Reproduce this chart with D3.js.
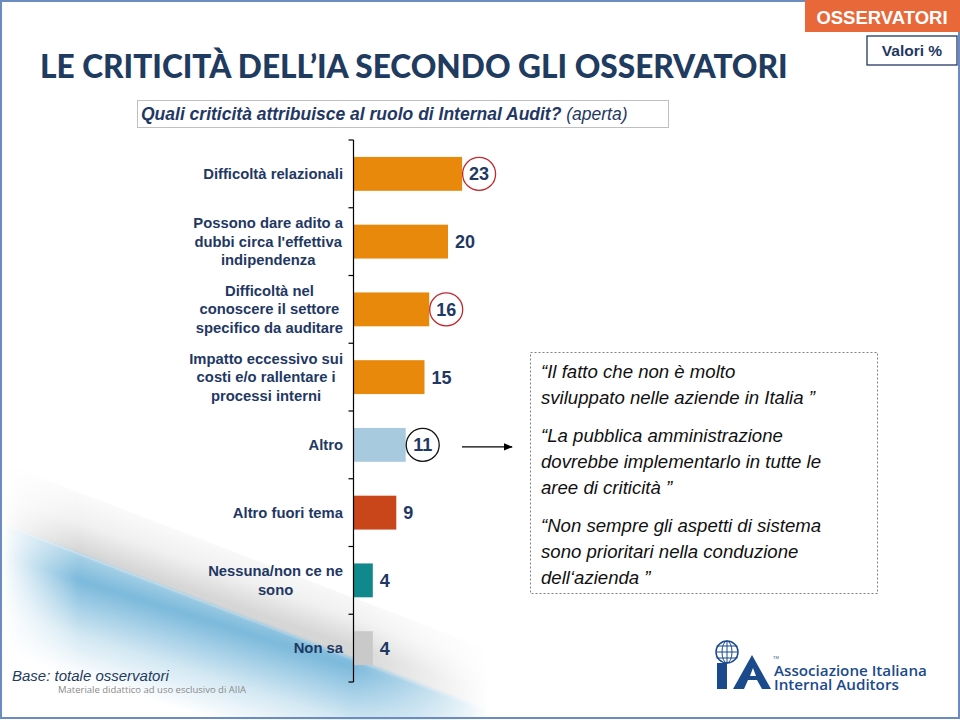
<!DOCTYPE html>
<html><head><meta charset="utf-8">
<script src="https://cdn.jsdelivr.net/npm/d3@7"></script>
<style>body{margin:0;background:#fff}svg{display:block}</style>
</head><body><svg id="c" width="960" height="720"></svg>
<script>
// ---------- DATA ----------
const categories = [
  "Difficoltà relazionali",
  "Possono dare adito a dubbi circa l'effettiva indipendenza",
  "Difficoltà nel conoscere il settore specifico da auditare",
  "Impatto eccessivo sui costi e/o rallentare i processi interni",
  "Altro",
  "Altro fuori tema",
  "Nessuna/non ce ne sono",
  "Non sa"
];
const categoryLines = [
  ["Difficoltà relazionali"],
  ["Possono dare adito a", "dubbi circa l'effettiva", "indipendenza"],
  ["Difficoltà nel", "conoscere il settore", "specifico da auditare"],
  ["Impatto eccessivo sui", "costi e/o rallentare i", "processi interni"],
  ["Altro"],
  ["Altro fuori tema"],
  ["Nessuna/non ce ne", "sono"],
  ["Non sa"]
];
const values = [23, 20, 16, 15, 11, 9, 4, 4];
const circledCategories = ["Difficoltà relazionali", "Difficoltà nel conoscere il settore specifico da auditare", "Altro"];
const quotes = [
  ["\u201CIl fatto che non è molto", "sviluppato nelle aziende in Italia \u201D"],
  ["\u201CLa pubblica amministrazione", "dovrebbe implementarlo in tutte le", "aree di criticità \u201D"],
  ["\u201CNon sempre gli aspetti di sistema", "sono prioritari nella conduzione", "dell\u2018azienda \u201D"]
];
const titleText = "LE CRITICITÀ DELL\u2019IA SECONDO GLI OSSERVATORI";
const questionBold = "Quali criticità attribuisce al ruolo di Internal Audit?";
const questionNote = " (aperta)";

// ---------- STYLE ----------
const barColors = ["#E8890C","#E8890C","#E8890C","#E8890C","#A8CADF","#C8461A","#10898C","#C9C9C9"];
const circleColors = {"Difficoltà relazionali":"#C0282D","Difficoltà nel conoscere il settore specifico da auditare":"#C0282D","Altro":"#111"};
const navy = "#1F3864";
const sans = "'Liberation Sans', Arial, sans-serif";

const svg = d3.select("#c");
const defs = svg.append("defs");

// ---------- background swoosh ----------
const bgGrad = defs.append("linearGradient").attr("id","blueG")
  .attr("gradientUnits","userSpaceOnUse").attr("x1",200).attr("y1",594).attr("x2",165).attr("y2",705);
bgGrad.append("stop").attr("offset",0).attr("stop-color","#a6d0e6");
bgGrad.append("stop").attr("offset",0.2).attr("stop-color","#7bb9db");
bgGrad.append("stop").attr("offset",0.65).attr("stop-color","#d3e8f3");
bgGrad.append("stop").attr("offset",1).attr("stop-color","#ffffff");
const grayGrad = defs.append("linearGradient").attr("id","grayG")
  .attr("gradientUnits","userSpaceOnUse").attr("x1",222).attr("y1",530).attr("x2",200).attr("y2",593);
grayGrad.append("stop").attr("offset",0).attr("stop-color","#ffffff");
grayGrad.append("stop").attr("offset",0.6).attr("stop-color","#f0f0f0");
grayGrad.append("stop").attr("offset",1).attr("stop-color","#d6d6d6");
const leftFade = defs.append("linearGradient").attr("id","leftFade")
  .attr("gradientUnits","userSpaceOnUse").attr("x1",0).attr("y1",0).attr("x2",490).attr("y2",0);
leftFade.append("stop").attr("offset",0).attr("stop-color","#000");
leftFade.append("stop").attr("offset",0.16).attr("stop-color","#fff");
leftFade.append("stop").attr("offset",0.72).attr("stop-color","#fff");
leftFade.append("stop").attr("offset",1).attr("stop-color","#000");
defs.append("mask").attr("id","fadeMask").attr("maskUnits","userSpaceOnUse")
  .attr("x",0).attr("y",440).attr("width",520).attr("height",280)
  .append("rect").attr("x",0).attr("y",440).attr("width",520).attr("height",280).attr("fill","url(#leftFade)");
defs.append("filter").attr("id","soft").append("feGaussianBlur").attr("stdDeviation",1.5);

const sw = svg.append("g").attr("mask","url(#fadeMask)");
sw.append("path").attr("d","M0,462 L490,650 L490,712 L0,523 Z").attr("fill","url(#grayG)");
sw.append("path").attr("d","M0,523 L490,711 L490,720 L0,720 Z").attr("fill","url(#blueG)").attr("filter","url(#soft)");

// slide border
svg.append("rect").attr("x",1).attr("y",1).attr("width",958).attr("height",717)
  .attr("fill","none").attr("stroke","#6C8CBF").attr("stroke-width",2);

// ---------- header ----------
svg.append("rect").attr("x",805).attr("y",0).attr("width",155).attr("height",32).attr("fill","#E8683A");
svg.append("text").attr("x",882).attr("y",24).attr("text-anchor","middle")
  .attr("font-family",sans).attr("font-weight","bold").attr("font-size",18.5).attr("fill","#fff").text("OSSERVATORI");
svg.append("rect").attr("x",867).attr("y",36).attr("width",90).attr("height",29)
  .attr("fill","#fff").attr("stroke",navy).attr("stroke-width",1.3);
svg.append("text").attr("x",912).attr("y",56).attr("text-anchor","middle")
  .attr("font-family",sans).attr("font-weight","bold").attr("font-size",15.5).attr("fill",navy).text("Valori %");

// title: size it so its natural width spans the reference width
const title = svg.append("text").attr("x",40).attr("y",78)
  .attr("font-family","Lato, 'Open Sans', sans-serif").attr("font-weight",900).attr("font-size",36)
  .attr("fill","#1F3B60").text(titleText);
const tw0 = title.node().getComputedTextLength();
const tfs = Math.min(38, 36 * 748 / tw0);
title.attr("font-size", tfs);

svg.append("rect").attr("x",137.5).attr("y",100.5).attr("width",531).attr("height",27)
  .attr("fill","#fff").attr("stroke","#BFBFBF");
const q = svg.append("text").attr("x",141).attr("y",120).attr("font-family",sans)
  .attr("font-size",17.5).attr("font-style","italic").attr("fill",navy);
q.append("tspan").attr("font-weight","bold").text(questionBold);
q.append("tspan").text(questionNote);

// ---------- chart ----------
const y = d3.scaleBand().domain(categories).range([140, 682]).paddingInner(0.5).paddingOuter(0.25);
const x = d3.scaleLinear().domain([0, 25]).range([354, 354 + 25 * 4.7]);

svg.append("g").selectAll("rect").data(categories).join("rect")
  .attr("x", x(0)).attr("y", d => y(d)).attr("height", y.bandwidth())
  .attr("width", (d,i) => x(values[i]) - x(0)).attr("fill", (d,i) => barColors[i]);

// axis
const axisX = 353.5;
const ax = svg.append("g").attr("stroke","#000").attr("stroke-width",1.2);
ax.append("line").attr("x1",axisX).attr("x2",axisX).attr("y1",y.range()[0]).attr("y2",y.range()[1]);
const bounds = d3.range(categories.length + 1).map(i => y.range()[0] + i * y.step());
ax.selectAll("line.t").data(bounds).join("line").attr("class","t")
  .attr("x1",axisX - 5).attr("x2",axisX).attr("y1",d=>d).attr("y2",d=>d);

// category labels: lines centered within a right-aligned block
const labG = svg.append("g").attr("font-family",sans).attr("font-weight","bold")
  .attr("font-size",14.8).attr("fill",navy);
categories.forEach((c, i) => {
  const lines = categoryLines[i];
  const cy = y(c) + y.bandwidth() / 2;
  const lh = 18.5;
  const t = labG.append("text").attr("text-anchor","middle");
  lines.forEach((l, k) => {
    t.append("tspan").attr("y", cy + (k - (lines.length - 1) / 2) * lh + 5).text(l);
  });
  let maxW = 0;
  t.selectAll("tspan").each(function(){ maxW = Math.max(maxW, this.getComputedTextLength()); });
  t.selectAll("tspan").attr("x", 343 - maxW / 2);
});

// value labels
const valG = svg.append("g").attr("font-family",sans).attr("font-weight","bold")
  .attr("font-size",18).attr("fill",navy);
categories.forEach((c, i) => {
  const cy = y(c) + y.bandwidth() / 2;
  const v = values[i];
  const cx = x(v) + (String(v).length === 1 ? 12 : 17);
  if (circledCategories.includes(c)) {
    svg.append("circle").attr("cx", cx).attr("cy", cy).attr("r", 16.5)
      .attr("fill","none").attr("stroke", circleColors[c]).attr("stroke-width",1.3);
  }
  valG.append("text").attr("x", cx).attr("y", cy + 6.5).attr("text-anchor","middle").text(v);
});

// arrow from "Altro"
const ay = y("Altro") + y.bandwidth() / 2 + 2;
defs.append("marker").attr("id","ah").attr("viewBox","0 0 10 10").attr("refX",9).attr("refY",5)
  .attr("markerWidth",7).attr("markerHeight",7).attr("orient","auto")
  .append("path").attr("d","M0,1 L10,5 L0,9 Z").attr("fill","#000");
svg.append("line").attr("x1",462).attr("x2",512).attr("y1",ay).attr("y2",ay)
  .attr("stroke","#000").attr("stroke-width",1.3).attr("marker-end","url(#ah)");

// quotes box
svg.append("rect").attr("x",530.5).attr("y",352.5).attr("width",347).attr("height",241)
  .attr("fill","#fff").attr("stroke","#808080").attr("stroke-dasharray","2,2").attr("stroke-width",1);
const qg = svg.append("g").attr("font-family",sans).attr("font-style","italic")
  .attr("font-size",18.6).attr("fill","#111");
let qy = 378;
quotes.forEach((qq) => {
  qq.forEach((l) => {
    qg.append("text").attr("x", 541).attr("y", qy).text(l);
    qy += 26;
  });
  qy += 12;
});

// footer
svg.append("text").attr("x",12).attr("y",681).attr("font-family",sans).attr("font-style","italic")
  .attr("font-size",15).attr("fill","#1F3B60").text("Base: totale osservatori");
svg.append("text").attr("x",58).attr("y",693).attr("font-family","'Open Sans', sans-serif")
  .attr("font-size",9.5).attr("fill","#8a8a8a").text("Materiale didattico ad uso esclusivo di AIIA");

// logo
const logoC = "#1B4A8C";
const lg = svg.append("g");
lg.append("rect").attr("x",717).attr("y",663).attr("width",10).attr("height",26).attr("fill",logoC);
lg.append("path").attr("d","M733,689 L752,655 L771,689 L762,689 L757,680 L748,680 L744,689 Z").attr("fill",logoC);
lg.append("path").attr("d","M750,676 L753,668 L756,676 Z").attr("fill","#fff");
lg.append("circle").attr("cx",727).attr("cy",652).attr("r",11).attr("fill","#fff").attr("stroke",logoC).attr("stroke-width",1.5);
[-6,0,6].forEach(d => lg.append("line").attr("x1",716.5).attr("x2",737.5).attr("y1",652+d).attr("y2",652+d).attr("stroke",logoC).attr("stroke-width",1));
lg.append("ellipse").attr("cx",727).attr("cy",652).attr("rx",5).attr("ry",11).attr("fill","none").attr("stroke",logoC).attr("stroke-width",1);
lg.append("line").attr("x1",727).attr("x2",727).attr("y1",641).attr("y2",663).attr("stroke",logoC).attr("stroke-width",1);
const logoLines = ["Associazione Italiana", "Internal Auditors"];
const logoWidths = [153, 125];
logoLines.forEach((l, k) => {
  const t = lg.append("text").attr("x",774).attr("y",676 + k * 14).attr("font-family","'Open Sans', sans-serif")
    .attr("font-weight",600).attr("font-size",15).attr("fill",logoC).text(l);
  const w = t.node().getComputedTextLength();
  t.attr("font-size", 15 * logoWidths[k] / w);
});
lg.append("text").attr("x",773).attr("y",659).attr("font-family",sans).attr("font-size",4).attr("fill",logoC).text("TM");
</script></body></html>
